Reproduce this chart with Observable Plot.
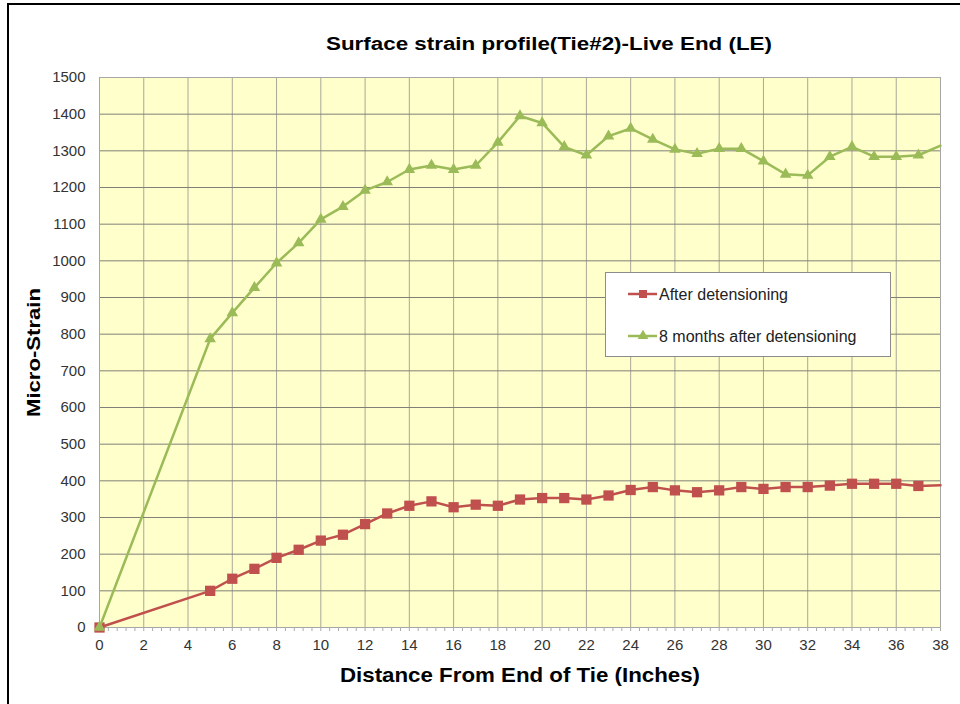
<!DOCTYPE html>
<html><head><meta charset="utf-8">
<script src="https://cdn.jsdelivr.net/npm/d3@7"></script>
<script src="https://cdn.jsdelivr.net/npm/@observablehq/plot@0.6"></script>
<style>
body{margin:0;background:#fff;}
#wrap{position:relative;width:960px;height:704px;overflow:hidden;font-family:"Liberation Sans",Arial,sans-serif;}
#border{position:absolute;left:7px;top:3px;width:1000px;height:800px;border:2px solid #000;box-sizing:border-box;}
#chart{position:absolute;left:0;top:0;}
</style></head><body><div id="wrap"><div id="border"></div><div id="chart"></div></div>
<script>
const distance = [0,5,6,7,8,9,10,11,12,13,14,15,16,17,18,19,20,21,22,23,24,25,26,27,28,29,30,31,32,33,34,35,36,37,38];
const afterDetensioning = [0,100,133,160,190,212,237,253,282,311,332,344,328,335,332,349,353,353,349,360,375,383,374,369,374,383,378,383,383,387,392,392,392,386,388];
const eightMonthsAfter = [0,787,858,927,994,1049,1113,1148,1192,1215,1249,1260,1249,1260,1323,1395,1376,1311,1288,1340,1361,1331,1304,1292,1306,1306,1272,1236,1233,1284,1311,1284,1284,1288,1314];
const seriesNames = ["After detensioning", "8 months after detensioning"];
const seriesColors = ["#C0504D", "#9BBB59"];
const xTicks = [0,2,4,6,8,10,12,14,16,18,20,22,24,26,28,30,32,34,36,38];
const yTicks = [0,100,200,300,400,500,600,700,800,900,1000,1100,1200,1300,1400,1500];
const titleText = "Surface strain profile(Tie#2)-Live End (LE)";
const xLabel = "Distance From End of Tie (Inches)";
const yLabel = "Micro-Strain";

const red = distance.map((d, i) => ({x: d, y: afterDetensioning[i]}));
const green = distance.map((d, i) => ({x: d, y: eightMonthsAfter[i]}));
const minorTicks = d3.range(0, 95.5, 1).map(k => k * 0.4);

const chart = Plot.plot({
  width: 960, height: 704,
  marginLeft: 99, marginRight: 20, marginTop: 77, marginBottom: 77,
  x: {domain: [0, 38]},
  y: {domain: [0, 1500]},
  style: {fontFamily: "Liberation Sans, Arial, sans-serif", fontSize: "15px", color: "#333", background: "transparent"},
  marks: [
    Plot.frame({fill: "#FFFFCC"}),
    Plot.gridX(xTicks, {stroke: "#a8a898", strokeOpacity: 1, strokeWidth: 1}),
    Plot.gridY(yTicks, {stroke: "#808078", strokeOpacity: 1, strokeWidth: 1}),
    Plot.frame({stroke: "#a6a6a6"}),
    Plot.axisX(minorTicks, {tickSize: 4, text: null, stroke: "#aaa", label: null}),
    Plot.axisX(xTicks, {tickSize: 0, tickPadding: 12, fontSize: 15, fill: "#333", label: null, tickFormat: d3.format("d")}),
    Plot.axisY(yTicks, {tickSize: 0, tickPadding: 14, fontSize: 15, fill: "#333", label: null, tickFormat: d3.format("d")}),
    Plot.line(red, {x: "x", y: "y", stroke: seriesColors[0], strokeWidth: 2.5}),
    Plot.dot(red.filter(d => d.x < 38), {x: "x", y: "y", symbol: "square", r: 5.8, fill: seriesColors[0], stroke: null}),
    Plot.line(green, {x: "x", y: "y", stroke: seriesColors[1], strokeWidth: 2.5}),
    Plot.dot(green.filter(d => d.x < 38), {x: "x", y: "y", symbol: "triangle", r: 4.3, fill: seriesColors[1], stroke: null}),
    Plot.text([titleText], {frameAnchor: "top", textAnchor: "middle", lineAnchor: "middle", dx: 29, dy: -33, fontWeight: "bold", fontSize: 18, fill: "#000", className: "ttl-main"}),
    Plot.text([xLabel], {frameAnchor: "bottom", textAnchor: "middle", lineAnchor: "middle", dy: 48, fontWeight: "bold", fontSize: 21, fill: "#000", className: "ttl-x"}),
    Plot.text([yLabel], {frameAnchor: "left", textAnchor: "middle", lineAnchor: "middle", rotate: -90, dx: -66, fontWeight: "bold", fontSize: 19, fill: "#000", className: "ttl-y"})
  ]
});
document.getElementById("chart").appendChild(chart);

const svg = d3.select(chart);
// stretch titles to the reference's widths
[["ttl-main", 446], ["ttl-x", 360], ["ttl-y", 129]].forEach(([cls, len]) => {
  svg.selectAll(`g.${cls} text`).attr("textLength", len).attr("lengthAdjust", "spacingAndGlyphs");
});

// legend
const lg = svg.append("g").attr("font-family", "Liberation Sans, Arial, sans-serif").attr("font-size", 16).attr("text-anchor", "start");
lg.append("rect").attr("x", 605.5).attr("y", 272.5).attr("width", 285).attr("height", 84)
  .attr("fill", "#fff").attr("stroke", "#8c8c8c");
const symbols = [d3.symbolSquare, d3.symbolTriangle];
const sizes = [64, 50];
seriesNames.forEach((name, i) => {
  const cy = 294 + i * 42;
  lg.append("line").attr("x1", 628).attr("x2", 657).attr("y1", cy).attr("y2", cy)
    .attr("stroke", seriesColors[i]).attr("stroke-width", 2.5);
  lg.append("path").attr("d", d3.symbol(symbols[i], sizes[i])())
    .attr("transform", `translate(643,${cy})`).attr("fill", seriesColors[i]);
  lg.append("text").attr("x", 659).attr("y", cy).attr("dy", "0.35em").attr("fill", "#222").attr("text-anchor", "start").text(name);
});
</script></body></html>
